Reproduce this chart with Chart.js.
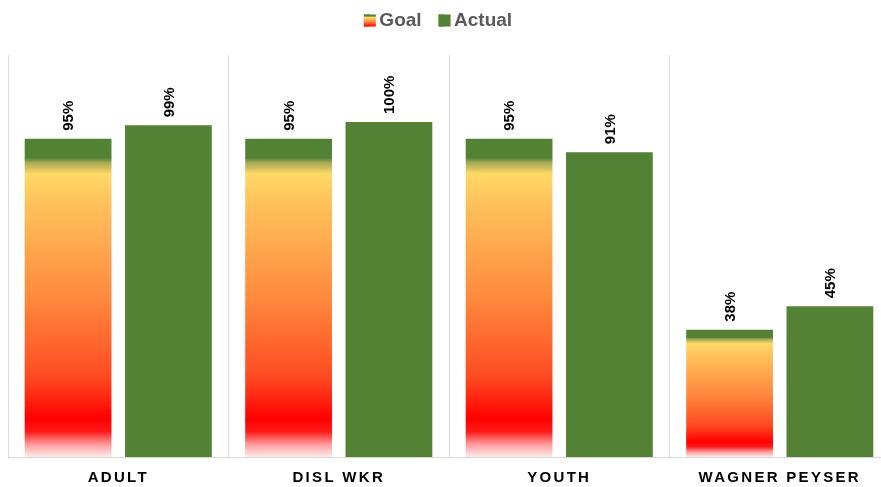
<!DOCTYPE html>
<html>
<head>
<meta charset="utf-8">
<script src="https://cdn.jsdelivr.net/npm/chart.js@4/dist/chart.umd.min.js"></script>
<style>
  html, body { margin: 0; padding: 0; background: #fff; overflow: hidden; }
  #wrap { width: 890px; height: 487px; }
</style>
</head>
<body>
<div id="wrap"><canvas id="chart"></canvas></div>
<script>
const categories = ['ADULT', 'DISL WKR', 'YOUTH', 'WAGNER PEYSER'];
const goalValues = [95, 95, 95, 38];
const actualValues = [99, 100, 91, 45];

const GREEN = '#548235';
const FONT = '"Liberation Sans", Arial, sans-serif';
const LEGEND_SHIFT = { x: -11, y: -6 };

// goal bars: green cap fading through yellow and orange into red
function goalGradient(c) {
  const chart = c.chart;
  const y = chart.scales && chart.scales.y;
  if (!y || !chart.chartArea || c.raw == null) return '#FF8C42';
  const top = y.getPixelForValue(c.raw);
  const base = y.getPixelForValue(0);
  return fillGoal(chart.ctx, top, base);
}

function fillGoal(ctx, top, base) {
  const g = ctx.createLinearGradient(0, top, 0, base);
  g.addColorStop(0, GREEN);
  g.addColorStop(0.06, GREEN);
  g.addColorStop(0.075, '#A5A955');
  g.addColorStop(0.095, '#D9C45E');
  g.addColorStop(0.11, '#FFD966');
  g.addColorStop(0.2, '#FFC25C');
  g.addColorStop(0.5, '#FF8A3D');
  g.addColorStop(0.75, '#FF4A22');
  g.addColorStop(0.88, '#FF0000');
  g.addColorStop(0.92, '#FF1A1A');
  g.addColorStop(0.96, '#FF9A9A');
  g.addColorStop(1, '#FDEBEB');
  return g;
}

const valueLabels = {
  id: 'valueLabels',
  afterDatasetsDraw(chart) {
    const ctx = chart.ctx;
    ctx.save();
    ctx.font = 'bold 15px ' + FONT;
    ctx.fillStyle = '#000';
    ctx.textAlign = 'left';
    ctx.textBaseline = 'middle';
    chart.data.datasets.forEach((ds, i) => {
      chart.getDatasetMeta(i).data.forEach((bar, j) => {
        ctx.save();
        ctx.translate(bar.x + 1, bar.y - 8);
        ctx.rotate(-Math.PI / 2);
        ctx.fillText(ds.data[j] + '%', 0, 0);
        ctx.restore();
      });
    });
    ctx.restore();
  }
};

const extras = {
  id: 'extras',
  beforeInit(chart) {
    const lg = chart.legend;
    const fit = lg.fit;
    lg.fit = function () {
      fit.call(this);
      this.height += 9;
    };
    const draw = lg.draw;
    lg.draw = function () {
      const ctx = this.ctx;
      ctx.save();
      ctx.translate(LEGEND_SHIFT.x, LEGEND_SHIFT.y);
      draw.call(this);
      ctx.restore();
    };
  },
  afterLayout(chart) {
    const sx = chart.scales.x;
    if (sx && !sx._spaced) {
      const orig = sx.drawLabels;
      sx.drawLabels = function (area) {
        const ctx = this.ctx;
        ctx.save();
        ctx.letterSpacing = '2.3px';
        orig.call(this, area);
        ctx.restore();
      };
      sx._spaced = true;
    }
  },
  afterDraw(chart) {
    // legend swatches: 12px squares, Goal one with the gradient
    const boxes = chart.legend.legendHitBoxes || [];
    const ctx = chart.ctx;
    const bw = 12;
    boxes.forEach((hb, i) => {
      const left = hb.left + LEGEND_SHIFT.x;
      const top = hb.top + (hb.height - bw) / 2 + LEGEND_SHIFT.y;
      ctx.save();
      if (i === 0) {
        const g = ctx.createLinearGradient(0, top, 0, top + bw);
        g.addColorStop(0, GREEN);
        g.addColorStop(0.12, GREEN);
        g.addColorStop(0.25, '#FFD966');
        g.addColorStop(0.6, '#FF8A3D');
        g.addColorStop(1, '#FF0000');
        ctx.fillStyle = g;
      } else {
        ctx.fillStyle = GREEN;
      }
      ctx.fillRect(left, top, bw, bw);
      ctx.restore();
    });
  }
};

new Chart(document.getElementById('chart'), {
  type: 'bar',
  data: {
    labels: categories,
    datasets: [
      {
        label: 'Goal',
        data: goalValues,
        backgroundColor: goalGradient,
        categoryPercentage: 0.91,
        barPercentage: 0.865
      },
      {
        label: 'Actual',
        data: actualValues,
        backgroundColor: GREEN,
        categoryPercentage: 0.91,
        barPercentage: 0.865
      }
    ]
  },
  options: {
    responsive: true,
    maintainAspectRatio: false,
    animation: false,
    layout: { padding: { left: 8, right: 0, top: 0, bottom: -12 } },
    plugins: {
      legend: {
        position: 'top',
        labels: {
          boxWidth: 6,
          boxHeight: 12,
          padding: 17,
          color: '#595959',
          font: { family: FONT, size: 19, weight: 'bold' }
        }
      },
      tooltip: { enabled: false }
    },
    scales: {
      x: {
        grid: { display: true, color: '#D9D9D9', drawTicks: false, offset: true },
        border: { display: true, color: '#D9D9D9' },
        ticks: {
          padding: 12,
          color: '#000',
          font: { family: FONT, size: 15, weight: 'bold' }
        }
      },
      y: {
        display: false,
        min: 0,
        max: 120
      }
    }
  },
  plugins: [valueLabels, extras]
});
</script>
</body>
</html>
